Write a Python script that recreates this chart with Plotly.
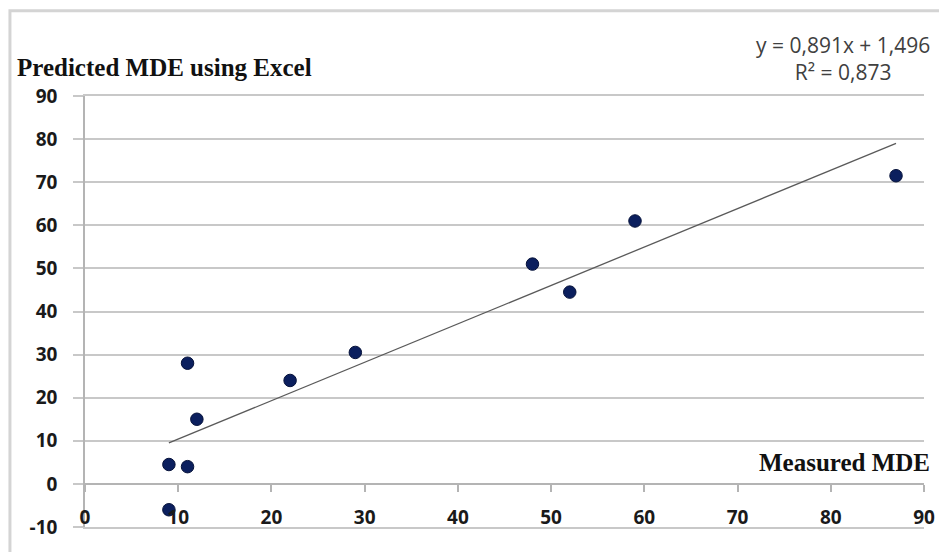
import plotly.graph_objects as go

# Data
measured_mde = [9, 9, 11, 11, 12, 22, 29, 48, 52, 59, 87]
predicted_mde = [-6, 4.5, 4, 28, 15, 24, 30.5, 51, 44.5, 61, 71.5]

slope = 0.891
intercept = 1.496
r_squared = 0.873

x_ticks = [0, 10, 20, 30, 40, 50, 60, 70, 80, 90]
y_ticks = [-10, 0, 10, 20, 30, 40, 50, 60, 70, 80, 90]
y_tick_text = ["-10", "0", "10", "20", "30", "40", "50", "60", "70", "80", "90"]

trend_x = [min(measured_mde), max(measured_mde)]
trend_y = [slope * v + intercept for v in trend_x]

GRID = "#c8c8c8"
AXIS = "#b4b4b4"
MARK = "#0b1f5e"
LBL = "#1a1a1a"

# page has an 8px body margin; plot area sits at page x 85..929, y 96..528
OFF = 8
L, R, T, B = 85, 929, 96, 528
PW, PH = R - L, B - T

def px(x):
    return (x - L) / PW

def py(y):
    return (B - y) / PH

fig = go.Figure()
fig.add_trace(go.Scatter(
    x=trend_x, y=trend_y, mode="lines", xaxis="x2", yaxis="y",
    line=dict(color="#5a5a5a", width=1.3), hoverinfo="skip", showlegend=False))
fig.add_trace(go.Scatter(
    x=measured_mde, y=predicted_mde, mode="markers",
    marker=dict(color=MARK, size=12.5, line=dict(color="#06123a", width=1)),
    showlegend=False))

tickfont = dict(family="Open Sans", size=19, color=LBL, weight="bold")

fig.update_layout(
    width=947 - OFF, height=552 - OFF,
    margin=dict(l=L - OFF, r=947 - R, t=T - OFF, b=552 - B),
    paper_bgcolor="white", plot_bgcolor="white",
    xaxis=dict(range=[0, 90], tickvals=x_ticks, showgrid=False, zeroline=False,
               showline=True, linecolor=GRID, linewidth=2, mirror=True,
               ticks="", ticklabelposition="inside",
               ticklabeloverflow="allow", tickfont=tickfont, fixedrange=True),
    xaxis2=dict(range=[0, 90], tickvals=x_ticks, overlaying="x", anchor="free",
                position=0.1, side="bottom", showgrid=False, zeroline=False,
                showline=True, linecolor=AXIS, linewidth=1.5, ticks="outside",
                ticklen=7, tickcolor=AXIS, tickwidth=1.5, showticklabels=False),
    yaxis=dict(range=[-10, 90], tickvals=y_ticks, ticktext=y_tick_text,
               showgrid=True, gridcolor=GRID,
               gridwidth=1.5, zeroline=False, showline=True, linecolor=AXIS,
               linewidth=1.5, ticks="outside", ticklen=10, tickcolor=GRID,
               tickwidth=1.5, tickfont=tickfont, ticklabelstandoff=12),
)

fig.add_annotation(
    text="Predicted MDE using Excel", xref="paper", yref="paper",
    x=px(15), y=py(67), xanchor="left", yanchor="middle",
    showarrow=False, font=dict(family="Liberation Serif", size=25, color="#111111", weight="bold"))
fig.add_annotation(
    text="Measured MDE", xref="paper", yref="paper",
    x=px(937), y=py(463), xanchor="right", yanchor="middle",
    showarrow=False, font=dict(family="Liberation Serif", size=25, color="#111111", weight="bold"))
fig.add_annotation(
    text=f"y = {slope:.3f}x + {intercept:.3f}".replace(".", ",") + "<br>" +
         f"R² = {r_squared:.3f}".replace(".", ","),
    xref="paper", yref="paper", x=px(848), y=py(58),
    xanchor="center", yanchor="middle", align="center", showarrow=False,
    font=dict(family="Open Sans", size=21, color="#404040"))

fig.add_shape(type="rect", xref="paper", yref="paper",
              x0=px(9.5), x1=px(960), y0=py(560), y1=py(10.5),
              line=dict(color="#d4d4d4", width=3), layer="below")

fig.write_html("out.html")
